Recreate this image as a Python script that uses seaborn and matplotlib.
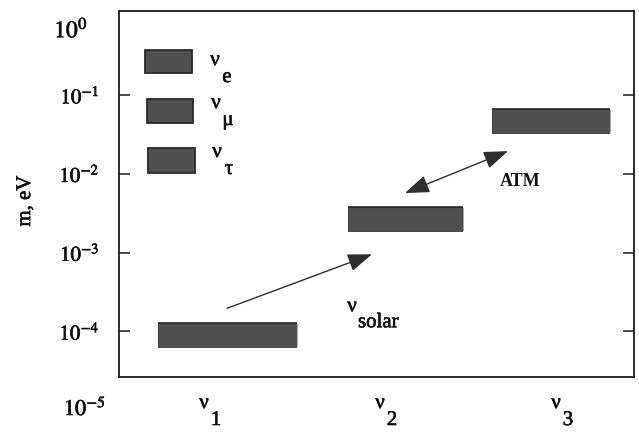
import numpy as np
import pandas as pd
import matplotlib
matplotlib.use("Agg")
import matplotlib.pyplot as plt
import matplotlib.patheffects as pe
from matplotlib.patches import Rectangle
from matplotlib.ticker import NullLocator
import seaborn as sns

# Neutrino mass eigenstates and their masses (eV)
states = ["1", "2", "3"]
masses = [9e-5, 2.7e-3, 4.7e-2]
# Flavour states shown in the key
flavours = ["e", "μ", "τ"]
# Decades labelled on the mass axis
ytick_exponents = [-1, -2, -3, -4]
top_exponent = 0
bottom_exponent = -5

# Layout: horizontal placement of each level bar (relative to its column)
positions = [1, 2, 3]
bar_spans = [(-0.295, 0.494), (-0.216, 0.4375), (-0.398, 0.273)]

sns.set_theme(style="ticks")
plt.rcParams.update({
    "font.family": ["Liberation Serif", "DejaVu Serif"],
    "mathtext.fontset": "stix",
    "axes.edgecolor": "#1a1a1a",
    "axes.linewidth": 1.3,
    "text.color": "#111111",
    "axes.labelcolor": "#111111",
    "ytick.color": "#1a1a1a",
    "ytick.labelcolor": "#111111",
})

W, H = 639, 433
fig = plt.figure(figsize=(W / 100, H / 100), dpi=100)
ax = fig.add_axes([119 / W, 56 / H, 515 / W, 366 / H])
ax.set_yscale("log")
ax.set_xlim(0.483, 3.409)
ax.set_ylim(10 ** -4.58, 10 ** 0.067)

BAR = "#505050"
EDGE = "#2a2a2a"
INK = [pe.withStroke(linewidth=0.45, foreground="#111111")]

# Mass levels as thick horizontal segments
rows = []
for s, pos, (a, b), m in zip(states, positions, bar_spans, masses):
    rows.append({"state": s, "x": pos + a, "m": m})
    rows.append({"state": s, "x": pos + b, "m": m})
levels = pd.DataFrame(rows)
sns.lineplot(data=levels, x="x", y="m", units="state", estimator=None,
             sort=False, color=BAR, lw=16.5, solid_capstyle="butt",
             path_effects=[pe.Stroke(linewidth=18.5, foreground=EDGE), pe.Normal()],
             legend=False, ax=ax)

# Axis ticks
ax.set_yticks([10.0 ** e for e in ytick_exponents])
ax.set_yticklabels([f"$10^{{{e}}}$" for e in ytick_exponents])
ax.yaxis.set_minor_locator(NullLocator())
ax.tick_params(axis="y", which="major", direction="in", length=8, width=1.1,
               left=True, right=True, labelsize=15, pad=14)
for lab in ax.get_yticklabels():
    lab.set_path_effects(INK)
ax.set_xticks([])
ax.set_xlabel("")

ytr = ax.get_yaxis_transform()
ax.annotate(f"$10^{{{top_exponent}}}$", xy=(0, 10.0 ** top_exponent),
            xycoords=ytr, xytext=(-31, -21), textcoords="offset pixels",
            ha="right", va="baseline", fontsize=17, annotation_clip=False,
            path_effects=INK)
ax.annotate(f"$10^{{{bottom_exponent}}}$", xy=(0, 10.0 ** bottom_exponent),
            xycoords=ytr, xytext=(-13, -5), textcoords="offset pixels",
            ha="right", va="baseline", fontsize=16, annotation_clip=False,
            path_effects=INK)

ax.set_ylabel("m, eV", fontsize=15, path_effects=INK)
ax.yaxis.set_label_coords(-0.163, 0.481)


def nu_label(x, y, sub, transform, dx, dy, size=15, sub_ha="center"):
    """Greek nu with a strongly lowered index beside it."""
    ax.text(x, y, "ν", transform=transform, ha="center", va="baseline",
            fontsize=size, clip_on=False, path_effects=INK)
    ax.annotate(sub, xy=(x, y), xycoords=transform, xytext=(dx, dy),
                textcoords="offset pixels", ha=sub_ha, va="baseline",
                fontsize=size, annotation_clip=False, path_effects=INK)


# Column labels under the axis
blend = ax.get_xaxis_transform()
for pos, s in zip(positions, states):
    x = pos - 6 / 176
    nu_label(x, -0.0847, s, blend, 12, -17)

# Key of flavour states
key_boxes = [(0.050, 0.831, 0.092, 0.062),
             (0.054, 0.694, 0.090, 0.066),
             (0.056, 0.557, 0.092, 0.069)]
key_text = [(0.1864, 0.8524), (0.1883, 0.7350), (0.1903, 0.6011)]
for (bx, by, bw, bh), (tx, ty), f in zip(key_boxes, key_text, flavours):
    ax.add_patch(Rectangle((bx, by), bw, bh, transform=ax.transAxes,
                           facecolor=BAR, edgecolor=EDGE, lw=1.3))
    nu_label(tx, ty, f, ax.transAxes, 12, -17)

# Oscillation arrows
ax.annotate("", xy=(1.920, 9.5e-4), xytext=(1.097, 1.96e-4),
            arrowprops=dict(arrowstyle="-|>,head_length=1.5,head_width=0.55",
                            color="#2e2e2e", lw=1.0, mutation_scale=10,
                            shrinkA=0, shrinkB=0))
ax.annotate("", xy=(2.693, 1.94e-2), xytext=(2.108, 5.7e-3),
            arrowprops=dict(arrowstyle="<|-|>,head_length=1.5,head_width=0.55",
                            color="#2e2e2e", lw=1.0, mutation_scale=10,
                            shrinkA=0, shrinkB=0))

nu_label(1.807, 1.8e-4, "solar", ax.transData, 6, -16, sub_ha="left")
ax.text(2.761, 6.9e-3, "ATM", ha="center", va="baseline", fontsize=13,
        fontweight="bold")

fig.savefig("out.png", dpi=100)
